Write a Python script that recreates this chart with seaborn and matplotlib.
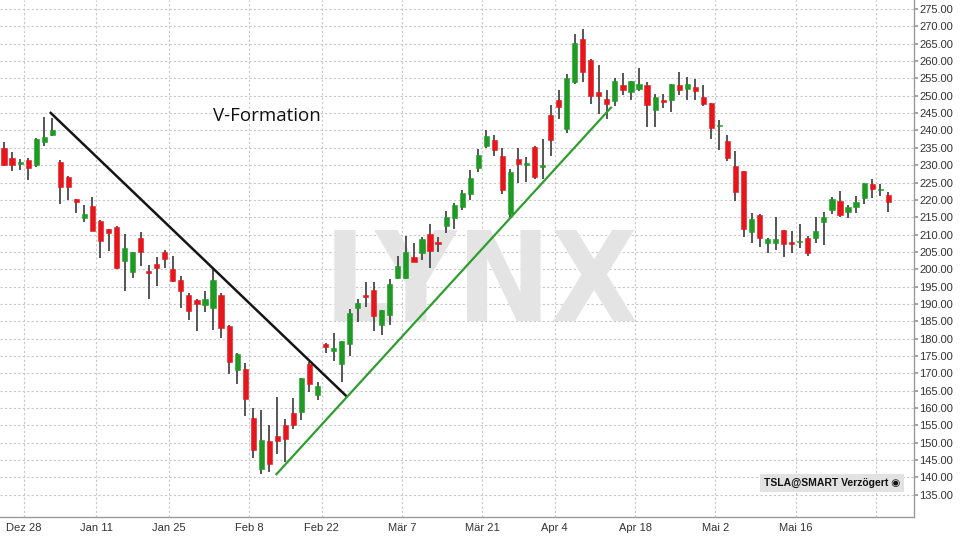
import matplotlib
matplotlib.use("Agg")
import matplotlib.pyplot as plt
from matplotlib import font_manager
import seaborn as sns
import numpy as np
import pandas as pd

# ---- data (TSLA daily candles) ----
opens = [235.0, 232.2, 230.3, 231.6, 230.1, 236.8, 238.8, 230.9, 226.7, 220.2,
         214.7, 218.1, 214.0, 211.7, 212.3, 202.4, 199.2, 209.0, 199.6, 201.6,
         204.9, 200.1, 196.8, 192.5, 191.0, 189.6, 188.8, 192.7, 183.6, 171.0,
         171.2, 157.1, 142.3, 150.5, 152.0, 155.0, 158.7, 159.0, 172.7, 163.8,
         178.5, 176.3, 172.7, 178.5, 188.7, 192.5, 194.1, 183.9, 186.7, 197.4,
         197.4, 203.4, 204.6, 210.2, 207.8, 212.6, 214.7, 217.9, 221.6, 229.1,
         235.4, 237.3, 232.5, 216.0, 231.7, 230.1, 235.2, 229.6, 244.5, 248.7,
         240.4, 253.9, 266.3, 260.3, 251.0, 249.2, 248.4, 253.0, 251.0, 252.0,
         253.0, 246.0, 248.9, 248.7, 253.0, 252.0, 252.6, 249.6, 247.9, 241.2,
         236.9, 229.9, 228.4, 210.8, 215.6, 207.5, 207.5, 211.2, 207.7, 207.8,
         208.9, 209.1, 213.6, 217.0, 219.7, 216.5, 217.8, 220.5, 224.7, 222.8,
         221.3]
highs = [236.7, 233.7, 231.8, 232.0, 237.8, 243.8, 243.6, 231.5, 227.0, 220.2,
         218.4, 220.7, 214.3, 211.7, 212.6, 210.1, 205.1, 210.6, 201.3, 203.4,
         205.6, 203.7, 198.0, 193.2, 191.3, 193.7, 200.0, 193.2, 184.0, 175.9,
         173.0, 160.0, 159.5, 155.1, 163.2, 156.8, 163.0, 168.6, 173.2, 167.4,
         178.8, 181.6, 179.2, 188.6, 191.5, 196.2, 196.2, 188.2, 197.3, 203.9,
         209.7, 207.6, 209.4, 213.1, 209.2, 216.8, 219.1, 222.8, 228.6, 234.6,
         240.0, 238.7, 234.9, 228.8, 234.9, 232.4, 235.4, 237.6, 247.4, 251.8,
         256.4, 267.8, 269.2, 260.7, 258.8, 251.6, 255.2, 256.6, 254.2, 258.1,
         253.9, 250.6, 250.6, 253.5, 256.9, 255.5, 254.7, 253.0, 248.0, 243.0,
         238.6, 234.2, 228.4, 216.2, 215.9, 209.1, 215.2, 211.2, 210.9, 213.0,
         209.6, 215.2, 216.6, 220.7, 222.6, 218.5, 221.2, 225.0, 226.0, 224.5,
         222.3]
lows = [229.7, 228.2, 228.5, 225.6, 229.6, 235.6, 238.5, 218.9, 220.1, 216.2,
        213.6, 211.1, 203.2, 205.3, 200.1, 193.6, 197.4, 200.8, 191.5, 195.2,
        200.3, 196.2, 188.8, 185.4, 182.1, 187.8, 182.6, 180.1, 169.8, 166.9,
        157.6, 145.7, 140.9, 141.5, 146.7, 144.4, 153.9, 156.5, 164.5, 162.4,
        175.8, 173.5, 167.6, 175.1, 184.7, 189.0, 182.3, 181.1, 184.0, 197.1,
        197.1, 202.0, 202.6, 200.5, 205.1, 210.5, 211.6, 217.0, 220.1, 228.1,
        234.9, 232.7, 221.8, 215.0, 225.0, 225.2, 226.0, 226.1, 232.7, 243.3,
        239.4, 253.3, 254.0, 247.7, 244.8, 243.3, 247.0, 250.3, 248.7, 251.3,
        240.9, 241.0, 246.5, 245.2, 250.3, 248.9, 248.9, 247.0, 237.4, 234.5,
        231.2, 219.8, 209.4, 207.7, 206.5, 204.8, 205.6, 203.4, 204.8, 206.2,
        203.8, 207.5, 207.0, 215.9, 215.2, 214.7, 216.2, 218.8, 220.5, 221.2,
        216.5]
closes = [230.0, 230.1, 231.0, 229.3, 237.4, 238.0, 240.2, 223.6, 223.6, 219.4,
          215.8, 211.1, 208.2, 210.4, 200.3, 206.1, 205.1, 205.0, 198.9, 200.3,
          203.0, 196.5, 193.6, 188.1, 190.1, 191.3, 197.0, 183.0, 173.4, 175.6,
          162.6, 147.9, 150.7, 143.8, 150.5, 151.0, 155.1, 168.6, 166.9, 166.4,
          177.7, 177.2, 179.2, 187.5, 190.2, 192.0, 186.4, 188.2, 195.7, 201.0,
          205.1, 202.2, 208.7, 205.2, 207.3, 215.2, 218.6, 222.1, 226.4, 232.9,
          238.3, 234.4, 222.8, 227.9, 230.3, 230.5, 226.7, 230.0, 237.3, 246.8,
          255.2, 265.2, 256.9, 249.9, 249.9, 247.7, 254.2, 251.6, 254.2, 253.4,
          247.3, 249.7, 248.2, 253.5, 251.6, 253.5, 251.3, 247.7, 240.7, 241.5,
          232.2, 222.4, 211.5, 214.6, 208.9, 208.7, 208.8, 207.4, 207.3, 208.1,
          204.8, 210.9, 215.1, 220.2, 215.6, 218.0, 219.4, 224.8, 223.1, 223.0,
          219.4]

# x-axis: trading-day index of each labelled date (grid sits half a day before)
tick_days = [3, 12, 21, 31, 40, 50, 60, 69, 79, 89, 99, 109]
tick_labels = ["Dez 28", "Jan 11", "Jan 25", "Feb 8", "Feb 22", "Mär 7",
               "Mär 21", "Apr 4", "Apr 18", "Mai 2", "Mai 16", ""]
y_ticks = list(range(135, 280, 5))

# annotation trend lines (day index, price)
down_line_days = [5.7, 42.7]
down_line_prices = [245.3, 163.2]
up_line_days = [33.8, 75.6]
up_line_prices = [140.7, 246.8]

df = pd.DataFrame({"open": opens, "high": highs, "low": lows, "close": closes})
df["day"] = np.arange(len(df))
df["up"] = df["close"] >= df["open"]

sns.set_theme(style="white")
plt.rcParams["font.family"] = ["Liberation Sans", "DejaVu Sans"]

names = {f.name for f in font_manager.fontManager.ttflist}
if "Liberation Sans Narrow" in names:
    wm_font = dict(family="Liberation Sans Narrow", fontweight="bold", fontsize=104)
else:
    wm_font = dict(family="DejaVu Sans", fontstretch="condensed",
                   fontweight="bold", fontsize=90)

fig = plt.figure(figsize=(9.6, 5.4), dpi=100)
ax = fig.add_axes([0.0, 0.0426, 0.952, 0.9574])

RED = "#e5161c"
GREEN = "#1f9a24"
WICK = "#3a3a3a"

# grid
for t in y_ticks:
    ax.axhline(t, color="#c8c8c8", lw=0.8, ls=(0, (2, 2)), zorder=0)
for d in tick_days:
    ax.axvline(d - 0.5, color="#c8c8c8", lw=0.8, ls=(0, (2, 2)), zorder=0)

# watermark
ax.text(59.3, 185.0, "LYNX", color="#e4e4e4", ha="center", va="baseline",
        zorder=0.5, **wm_font)

# wicks
ax.vlines(df["day"], df["low"], df["high"], color=WICK, lw=1.2, zorder=2)
# bodies
body_bottom = np.minimum(df["open"], df["close"])
body_h = np.maximum(np.abs(df["close"] - df["open"]), 0.45)
colors = np.where(df["up"], GREEN, RED)
ax.bar(df["day"], body_h, bottom=body_bottom, width=0.64, color=colors,
       edgecolor=colors, linewidth=0.4, zorder=3)

# trend lines
ax.plot(down_line_days, down_line_prices, color="#151515", lw=1.8, zorder=4,
        solid_capstyle="butt")
ax.plot(up_line_days, up_line_prices, color="#2e9e2e", lw=1.6, zorder=4,
        solid_capstyle="butt")

ax.text(32.7, 244.3, "V-Formation", fontsize=13.5, color="#111111",
        family=["Open Sans", "DejaVu Sans"], ha="center", va="center", zorder=5)

ax.text(103.0, 138.4, "TSLA@SMART Verzögert \u25C9", fontsize=7.5, fontweight="bold",
        color="#111111", ha="center", va="center", zorder=5,
        bbox=dict(boxstyle="square,pad=0.35", fc="#e2e2e2", ec="none"))

ax.set_xlim(-0.5, 113.2)
ax.set_ylim(128.6, 277.6)
ax.set_xticks([d - 0.5 for d in tick_days])
ax.set_xticklabels(tick_labels)
ax.set_yticks(y_ticks)
ax.set_yticklabels([f"{v:.2f}" for v in y_ticks])
ax.yaxis.tick_right()
ax.tick_params(axis="y", which="both", length=3, color="#999999", labelsize=8,
               labelcolor="#333333", pad=1, right=True, left=False)
ax.tick_params(axis="x", length=0, labelsize=8, labelcolor="#333333", pad=4)

for side in ["top", "left"]:
    ax.spines[side].set_visible(False)
for side in ["right", "bottom"]:
    ax.spines[side].set_visible(True)
    ax.spines[side].set_color("#9a9a9a")
    ax.spines[side].set_linewidth(1.0)

ax.set_xlabel("")
ax.set_ylabel("")
fig.savefig("out.png", dpi=100)
